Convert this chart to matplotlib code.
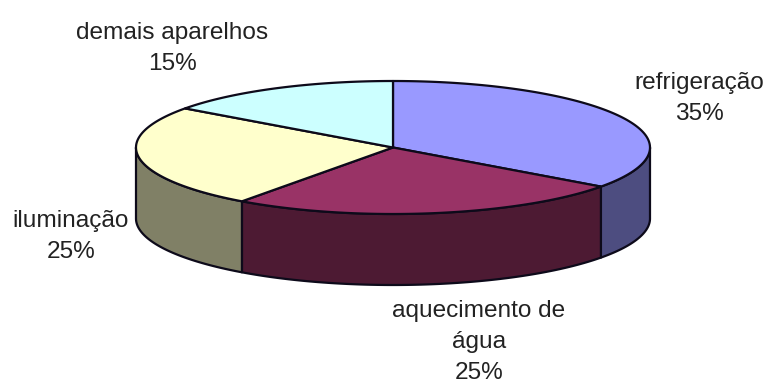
import numpy as np
import matplotlib
matplotlib.use("Agg")
import matplotlib.pyplot as plt
from matplotlib.patches import Polygon

plt.rcParams["font.family"] = ["Liberation Sans", "DejaVu Sans"]

labels = ["refrigeração", "aquecimento de\nágua", "iluminação", "demais aparelhos"]
values = [35, 25, 25, 15]
top_colors = ["#9999FF", "#993366", "#FFFFCC", "#CCFFFF"]
side_colors = ["#4D4D80", "#4D1A33", "#808066", "#668080"]

# pie geometry, in pixels
CX, CY = 393, 147.5
RX, RY = 257, 66.5
DEPTH = 71
LINE_STEP = 31

label_pos = [(699.5, 96.5), (479, 339.5), (71, 234.5), (172, 46.5)]


def rim(a0, a1, drop=0.0):
    """Points on the ellipse between two angles (degrees clockwise from top)."""
    t = np.radians(np.linspace(a0, a1, 120))
    return np.column_stack([CX + RX * np.sin(t), CY - RY * np.cos(t) + drop])


def draw_wall(ax, a0, a1, color):
    # only the front half of the rim is visible
    a0, a1 = max(a0, 90), min(a1, 270)
    if a1 <= a0:
        return
    pts = np.vstack([rim(a0, a1), rim(a0, a1, DEPTH)[::-1]])
    ax.add_patch(Polygon(pts, closed=True, fc=color, ec="#0d0a1a", lw=1.6, joinstyle="round"))


def draw_top(ax, a0, a1, color):
    pts = np.vstack([[(CX, CY)], rim(a0, a1)])
    ax.add_patch(Polygon(pts, closed=True, fc=color, ec="#0d0a1a", lw=1.6, joinstyle="round"))


def draw_label(ax, x, y, lines):
    # one text per line, the multiline spacing snaps to whole steps
    y0 = y - LINE_STEP * (len(lines) - 1) / 2
    for i, line in enumerate(lines):
        ax.text(x, y0 + i * LINE_STEP, line, ha="center", va="center_baseline", fontsize=17.6,
                color="#222222")


def main():
    fig = plt.figure(figsize=(7.67, 3.83), dpi=100)
    ax = fig.add_axes([0, 0, 1, 1])
    ax.set_xlim(0, 767)
    ax.set_ylim(383, 0)
    ax.axis("off")

    edges = np.concatenate([[0], np.cumsum(values)]) * 360 / sum(values)

    for i, color in enumerate(side_colors):
        draw_wall(ax, edges[i], edges[i + 1], color)
    for i, color in enumerate(top_colors):
        draw_top(ax, edges[i], edges[i + 1], color)

    for name, val, (x, y) in zip(labels, values, label_pos):
        draw_label(ax, x, y, name.split("\n") + [f"{val}%"])

    fig.savefig("out.png", dpi=100)
    plt.close(fig)


if __name__ == "__main__":
    main()
